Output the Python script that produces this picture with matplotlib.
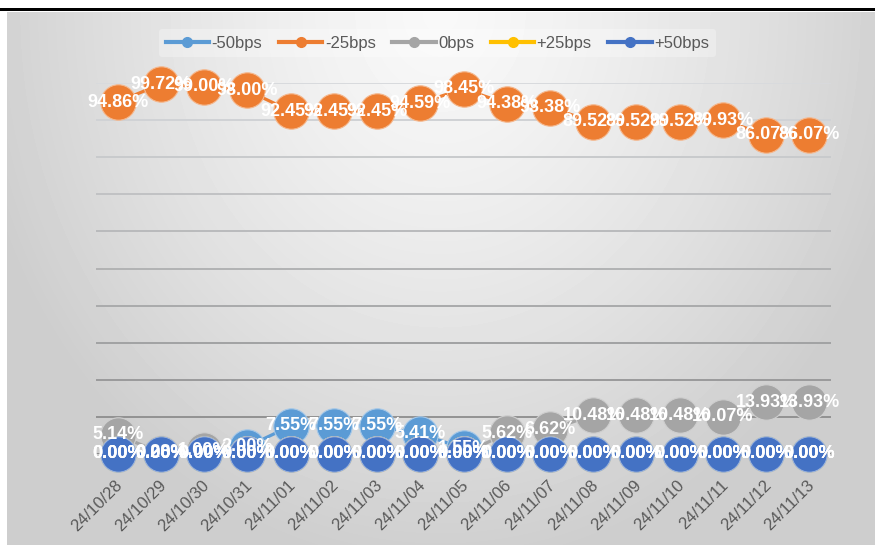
from matplotlib import pyplot as plt
from matplotlib.lines import Line2D
import matplotlib.transforms as mtransforms
import matplotlib.colors as mcolors
import numpy as np

# dates on the category axis
dates = ["24/10/28", "24/10/29", "24/10/30", "24/10/31", "24/11/01", "24/11/02",
         "24/11/03", "24/11/04", "24/11/05", "24/11/06", "24/11/07", "24/11/08",
         "24/11/09", "24/11/10", "24/11/11", "24/11/12", "24/11/13"]

series_names = ["-50bps", "-25bps", "0bps", "+25bps", "+50bps"]
cut50 = [0.00, 0.00, 0.00, 2.00, 7.55, 7.55, 7.55, 5.41, 1.55, 0.00, 0.00, 0.00,
         0.00, 0.00, 0.00, 0.00, 0.00]
cut25 = [94.86, 99.72, 99.00, 98.00, 92.45, 92.45, 92.45, 94.59, 98.45, 94.38, 93.38,
         89.52, 89.52, 89.52, 89.93, 86.07, 86.07]
hold = [5.14, 0.28, 1.00, 0.00, 0.00, 0.00, 0.00, 0.00, 0.00, 5.62, 6.62, 10.48,
        10.48, 10.48, 10.07, 13.93, 13.93]
hike25 = [0.00] * 17
hike50 = [0.00] * 17

colors = ["#5B9BD5", "#ED7D31", "#A5A5A5", "#FFC000", "#4472C4"]

W, H = 875, 545
fig = plt.figure(figsize=(W / 100, H / 100), dpi=100)

# background: white strip on top, black rule, grey radial gradient
bg = np.ones((H, W))
yy, xx = np.mgrid[0:H, 0:W]
r = np.sqrt(((xx - 440) / 480.0) ** 2 + ((yy - 12) / 560.0) ** 2)
grad = 0.975 - 0.17 * np.clip(r, 0, 1) ** 1.3
bg[12:, 7:] = grad[12:, 7:]
bg[8:11, :] = 0.0
ax_bg = fig.add_axes([0, 0, 1, 1], zorder=-10)
ax_bg.imshow(bg, cmap="gray", vmin=0, vmax=1, aspect="auto", interpolation="bilinear")
ax_bg.axis("off")

ax = fig.add_axes([96 / W, 91 / H, 735 / W, 371 / H])
ax.patch.set_alpha(0)
x = np.arange(len(dates))

# gridlines get darker toward the bottom
top_c = np.array(mcolors.to_rgb("#d8dadd"))
bot_c = np.array(mcolors.to_rgb("#8a8a8a"))
for g in range(0, 101, 10):
    t = g / 100.0
    ax.axhline(g, color=tuple(bot_c * (1 - t) + top_c * t), lw=1.4, zorder=1)

data = [cut50, cut25, hold, hike25, hike50]
for i in range(len(data)):
    edge = tuple(np.array(mcolors.to_rgb(colors[i])) * 0.55 + 0.45)
    ax.plot(x, data[i], color=colors[i], lw=2.3, marker="o", markersize=25.5,
            markeredgecolor=edge, markeredgewidth=0.8, zorder=2 + i, clip_on=False)

for i in range(len(data)):
    for j in range(len(x)):
        ax.text(x[j], data[i][j], "%.2f%%" % data[i][j], ha="center", va="center",
                color="white", fontsize=13, fontweight="bold",
                family=["Liberation Sans", "DejaVu Sans"], zorder=10, clip_on=False)

ax.set_xlim(-0.5, len(dates) - 0.5)
ax.set_ylim(0, 100)
ax.set_yticks([])
ax.set_xticks(x)
ax.set_xticklabels(dates, rotation=45, ha="right", va="top", fontsize=12,
                   color="#595959", family=["Liberation Sans", "DejaVu Sans"])
ax.tick_params(axis="x", length=0, pad=17)
offset = mtransforms.ScaledTranslation(8 / 100, 0, fig.dpi_scale_trans)
for lab in ax.get_xticklabels():
    lab.set_transform(lab.get_transform() + offset)
for s in ax.spines.values():
    s.set_visible(False)

handles = [Line2D([0], [0], color=c, lw=3, marker="o", markersize=7) for c in colors]
leg = fig.legend(handles, series_names, loc="center", bbox_to_anchor=(0.5, 1 - 43 / H),
                 ncol=5, frameon=True, handlelength=2.6,
                 handletextpad=0.15, columnspacing=1.0,
                 prop={"family": ["Liberation Sans Narrow", "Liberation Sans"], "size": 12})
leg.get_frame().set_facecolor("white")
leg.get_frame().set_alpha(0.3)
leg.get_frame().set_edgecolor("none")
for t in leg.get_texts():
    t.set_color("#595959")

fig.savefig("out.png", dpi=100)
